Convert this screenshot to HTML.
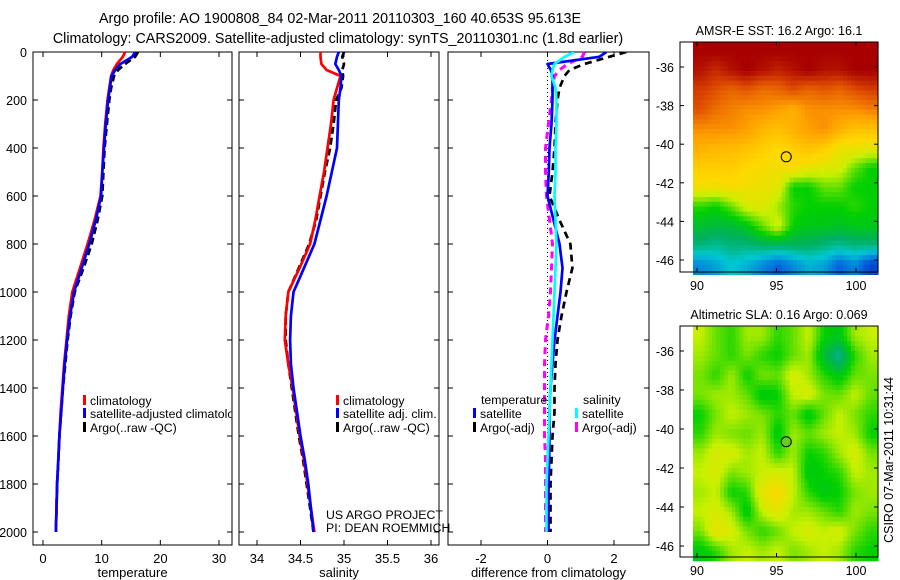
<!DOCTYPE html>
<html><head><meta charset="utf-8"><style>
html,body{margin:0;padding:0;background:#fff;}
svg{display:block;font-family:"Liberation Sans",sans-serif;}
</style></head><body>
<svg id="fig" width="900" height="580" viewBox="0 0 900 580"></svg>
<script>
const depths=[0,20,50,75,100,150,200,300,400,500,600,700,800,900,1000,1100,1200,1300,1400,1500,1600,1700,1800,1900,2000];
const tempClim=[14.0,13.6,12.6,12.0,11.6,11.3,11.0,10.6,10.3,10.1,9.8,8.8,7.6,6.3,5.0,4.4,4.0,3.6,3.3,3.0,2.8,2.6,2.4,2.3,2.2];
const tempSat=[15.7,15.2,13.2,12.3,11.7,11.4,11.1,10.7,10.4,10.1,9.9,9.0,7.9,6.6,5.3,4.6,4.1,3.7,3.4,3.1,2.8,2.6,2.4,2.3,2.2];
const tempArgo=[16.2,15.7,14.0,12.8,12.1,11.6,11.3,10.9,10.5,10.3,10.1,9.3,8.3,6.9,5.4,4.7,4.2,3.8,3.4,3.1,2.8,2.6,2.4,2.3,2.2];
const salClim=[34.73,34.73,34.74,34.80,34.96,34.92,34.88,34.85,34.81,34.77,34.72,34.67,34.61,34.49,34.36,34.33,34.32,34.36,34.41,34.45,34.49,34.54,34.58,34.62,34.66];
const salSat=[34.94,34.92,34.90,34.94,34.97,34.96,34.94,34.93,34.92,34.86,34.80,34.73,34.66,34.54,34.42,34.39,34.38,34.39,34.42,34.46,34.50,34.55,34.59,34.62,34.65];
const salArgo=[35.0,34.98,35.0,34.98,34.99,34.97,34.91,34.88,34.84,34.78,34.73,34.68,34.60,34.48,34.36,34.33,34.33,34.36,34.40,34.44,34.48,34.53,34.57,34.61,34.65];
const dTempSat=[1.77,1.56,0.0,0.1,0.15,0.15,0.15,0.12,0.06,0.04,0.0,0.18,0.36,0.45,0.39,0.30,0.21,0.15,0.09,0.06,0.06,0.05,0.03,0.03,0.03];
const dTempArgo=[2.37,1.86,1.11,0.66,0.51,0.36,0.30,0.24,0.21,0.15,0.06,0.36,0.69,0.75,0.57,0.42,0.30,0.24,0.21,0.21,0.15,0.12,0.09,0.09,0.09];
const dSalSat=[0.81,0.51,0.21,0.15,0.12,0.24,0.27,0.27,0.24,0.24,0.21,0.24,0.27,0.24,0.21,0.18,0.15,0.12,0.09,0.06,0.03,0.0,-0.03,-0.03,-0.03];
const dSalArgo=[1.11,1.05,0.60,0.36,0.21,0.15,0.12,0.03,-0.06,-0.06,-0.03,0.06,0.15,0.12,0.09,0.03,-0.06,-0.09,-0.09,-0.09,-0.09,-0.06,-0.06,-0.06,-0.06];
const depthTicks=[0,200,400,600,800,1000,1200,1400,1600,1800,2000];
const tempTicks=[0,10,20,30];
const salTicks=[34,34.5,35,35.5,36];
const diffTicks=[-2,0,2];
const lonTicks=[90,95,100];
const latTicks1=[-36,-38,-40,-42,-44,-46];
const latTicks2=[-36,-38,-40,-42,-44,-46];
const sstGrid=[
[0.97,0.97,0.97,0.97,0.97,0.97,0.97,0.97,0.97,0.97,0.97,0.97],
[0.95,0.92,0.95,0.97,0.95,0.93,0.95,0.97,0.95,0.95,0.97,0.97],
[0.90,0.88,0.85,0.87,0.84,0.85,0.88,0.85,0.87,0.85,0.88,0.90],
[0.88,0.84,0.82,0.80,0.80,0.78,0.75,0.80,0.80,0.80,0.80,0.82],
[0.80,0.80,0.80,0.78,0.74,0.72,0.75,0.78,0.80,0.75,0.72,0.72],
[0.75,0.74,0.73,0.72,0.70,0.68,0.70,0.72,0.70,0.65,0.65,0.64],
[0.70,0.70,0.70,0.68,0.67,0.66,0.68,0.65,0.63,0.62,0.55,0.50],
[0.66,0.66,0.67,0.66,0.65,0.64,0.50,0.50,0.55,0.55,0.50,0.50],
[0.52,0.50,0.55,0.62,0.63,0.58,0.52,0.50,0.50,0.50,0.52,0.50],
[0.46,0.45,0.45,0.48,0.55,0.62,0.50,0.48,0.48,0.47,0.48,0.48],
[0.40,0.38,0.40,0.40,0.42,0.42,0.42,0.42,0.40,0.38,0.40,0.40],
[0.25,0.28,0.33,0.30,0.25,0.20,0.25,0.30,0.28,0.20,0.25,0.15]];
const slaGrid=[
[0.60,0.55,0.52,0.58,0.58,0.52,0.55,0.60,0.50,0.48,0.58,0.60],
[0.58,0.55,0.52,0.56,0.52,0.50,0.55,0.58,0.45,0.38,0.52,0.58],
[0.56,0.52,0.58,0.50,0.56,0.55,0.62,0.58,0.52,0.48,0.55,0.56],
[0.56,0.58,0.58,0.55,0.48,0.50,0.60,0.62,0.56,0.55,0.60,0.55],
[0.50,0.56,0.60,0.58,0.56,0.52,0.55,0.48,0.55,0.60,0.56,0.52],
[0.52,0.58,0.56,0.55,0.58,0.48,0.58,0.55,0.58,0.60,0.58,0.50],
[0.58,0.62,0.62,0.58,0.60,0.52,0.58,0.50,0.52,0.58,0.62,0.56],
[0.60,0.62,0.56,0.58,0.60,0.62,0.60,0.48,0.50,0.52,0.60,0.58],
[0.58,0.60,0.50,0.52,0.65,0.68,0.60,0.52,0.48,0.50,0.56,0.58],
[0.60,0.62,0.58,0.48,0.60,0.64,0.58,0.58,0.55,0.52,0.58,0.56],
[0.56,0.65,0.62,0.56,0.52,0.55,0.60,0.62,0.60,0.62,0.56,0.52],
[0.48,0.52,0.58,0.60,0.58,0.60,0.56,0.58,0.60,0.58,0.52,0.50]];

const svg=document.getElementById('fig');
const NS='http://www.w3.org/2000/svg';
function mk(tag,attrs,parent){const e=document.createElementNS(NS,tag);for(const k in attrs)e.setAttribute(k,attrs[k]);(parent||svg).appendChild(e);return e;}
function txt(x,y,s,anchor,size,parent){const t=mk('text',{x:x,y:y,'font-size':size||13,'text-anchor':anchor||'start',fill:'#000'},parent);t.textContent=s;return t;}

const T=52,B=545;
const yD=d=>52+d*0.24;
const panels=[
 {name:'temperature',L:33,R:232,x0:0,x1:30,px0:43,px1:219,ticks:tempTicks,label:'temperature'},
 {name:'salinity',L:239,R:439,x0:34,x1:36,px0:257,px1:431,ticks:salTicks,label:'salinity'},
 {name:'difference',L:448,R:649,x0:-2,x1:2,px0:481,px1:614,ticks:diffTicks,label:'difference from climatology'}];
panels.forEach(p=>{p.sx=v=>p.px0+(v-p.x0)*(p.px1-p.px0)/(p.x1-p.x0);});

let t1=txt(340,23,'Argo profile: AO 1900808_84 02-Mar-2011 20110303_160 40.653S 95.613E','middle',14.3);

let t2=txt(338,43,'Climatology: CARS2009. Satellite-adjusted climatology: synTS_20110301.nc (1.8d earlier)','middle',14.3);


panels.forEach((p,i)=>{
 const g=mk('g',{});
 
 
 const cp=mk('clipPath',{id:'cp'+i},g);mk('rect',{x:p.L,y:T,width:p.R-p.L,height:B-T},cp);
 mk('rect',{x:p.L,y:T,width:p.R-p.L,height:B-T,fill:'none',stroke:'#000','stroke-width':1},g);
 depthTicks.forEach(d=>{
  const y=yD(d);
  mk('line',{x1:p.L,y1:y,x2:p.L+5,y2:y,stroke:'#000'},g);
  mk('line',{x1:p.R-5,y1:y,x2:p.R,y2:y,stroke:'#000'},g);
  if(i===0){const lt=txt(p.L-6,y+5,String(d),'end',12.5,g);}
 });
 p.ticks.forEach(v=>{
  const x=p.sx(v);
  mk('line',{x1:x,y1:B,x2:x,y2:B-5,stroke:'#000'},g);
  mk('line',{x1:x,y1:T,x2:x,y2:T+5,stroke:'#000'},g);
  const lt=txt(x,B+18,String(v),'middle',13,g);
  
  
 });
 const al=txt((p.L+p.R)/2,B+32,p.label,'middle',13,g);
 
 
 p.g=g;
});

function series(p,vals,color,w,dash,name,i){
 const pts=depths.map((d,k)=>p.sx(vals[k]).toFixed(1)+','+yD(d).toFixed(1)).join(' ');
 const a={points:pts,fill:'none',stroke:color,'stroke-width':w,'stroke-linejoin':'round','clip-path':'url(#cp'+i+')'};
 if(dash)a['stroke-dasharray']=dash;
 const l=mk('polyline',a,p.g);
 
 
}
{const p=panels[2];const z=mk('line',{x1:p.sx(0),y1:T,x2:p.sx(0),y2:yD(2000),stroke:'#000','stroke-dasharray':'1,3','stroke-width':1},p.g);
}
series(panels[0],tempArgo,'#000',2.7,'7,4','temp-argo-line',0);
series(panels[0],tempClim,'#f00',2.7,null,'temp-climatology-line',0);
series(panels[0],tempSat,'#00f',2.7,null,'temp-satellite-line',0);
series(panels[1],salArgo,'#000',2.7,'7,4','sal-argo-line',1);
series(panels[1],salClim,'#f00',2.7,null,'sal-climatology-line',1);
series(panels[1],salSat,'#00f',2.7,null,'sal-satellite-line',1);
series(panels[2],dTempArgo,'#000',2.7,'7,5','diff-temp-argo-line',2);
series(panels[2],dSalArgo,'#f0f',3,'7,5','diff-sal-argo-line',2);
series(panels[2],dTempSat,'#00f',2.7,null,'diff-temp-satellite-line',2);
series(panels[2],dSalSat,'#0ff',2.7,null,'diff-sal-satellite-line',2);

function legendEntry(g,x,y,color,label,clip,name){
 const grp=mk('g',{},g);
 
 
 mk('rect',{x:x,y:y-9,width:3,height:10,fill:color},grp);
 const t=txt(x+7,y+1,label,'start',12.3,grp);
 if(clip)t.setAttribute('clip-path',clip);
}
legendEntry(panels[0].g,83,404,'#f00','climatology',null,'legend-entry-climatology');
legendEntry(panels[0].g,83,417,'#00f','satellite-adjusted climatology','url(#cp0)','legend-entry-satellite');
legendEntry(panels[0].g,83,431,'#000','Argo(..raw -QC)',null,'legend-entry-argo');
legendEntry(panels[1].g,336,404,'#f00','climatology',null,'legend-entry-climatology');
legendEntry(panels[1].g,336,417,'#00f','satellite adj. clim.',null,'legend-entry-satellite');
legendEntry(panels[1].g,336,431,'#000','Argo(..raw -QC)',null,'legend-entry-argo');
{const a=txt(481,404,'temperature','start',12.3,panels[2].g);
 const b=txt(583,404,'salinity','start',12.3,panels[2].g);}
legendEntry(panels[2].g,473,417,'#00f','satellite',null,'legend-entry-temp-satellite');
legendEntry(panels[2].g,473,431,'#000','Argo(-adj)',null,'legend-entry-temp-argo');
legendEntry(panels[2].g,575,417,'#0ff','satellite',null,'legend-entry-sal-satellite');
legendEntry(panels[2].g,575,431,'#f0f','Argo(-adj)',null,'legend-entry-sal-argo');
{const a=txt(326,519,'US ARGO PROJECT','start',12.3);
 const b=txt(326,532,'PI: DEAN ROEMMICH','start',12.3);}

const cstops=[[0,[0,0,143]],[0.2,[0,96,224]],[0.33,[0,200,210]],[0.42,[0,176,96]],[0.5,[0,208,0]],[0.6,[200,240,0]],[0.68,[255,216,0]],[0.78,[255,160,0]],[0.88,[224,80,0]],[0.97,[168,0,0]],[1,[160,0,0]]];
function cmap(v){for(let i=1;i<cstops.length;i++){if(v<=cstops[i][0]){const a=cstops[i-1],b=cstops[i];const f=(v-a[0])/(b[0]-a[0]);return 'rgb('+a[1].map((c,k)=>Math.round(c+(b[1][k]-c)*f)).join(',')+')';}}return 'rgb(160,0,0)';}
function sample(grid,fr,fc){
 const R=grid.length,C=grid[0].length;
 fr=Math.max(0,Math.min(R-1,fr));fc=Math.max(0,Math.min(C-1,fc));
 const r0=Math.floor(fr),c0=Math.floor(fc),r1=Math.min(R-1,r0+1),c1=Math.min(C-1,c0+1);
 const a=fr-r0,b=fc-c0;
 return grid[r0][c0]*(1-a)*(1-b)+grid[r0][c1]*(1-a)*b+grid[r1][c0]*a*(1-b)+grid[r1][c1]*a*b;
}

function map(cfg){
 const g=mk('g',{});
 
 
 const sx=lon=>697+(lon-90)*15.9;
 const sy=lat=>cfg.y36+(-36-lat)*cfg.dy;
 const lon0=89.75,lon1=90+(878-697)/15.9,lat0=cfg.latTop,lat1=-46.75;
 const rows=cfg.grid.length,cols=cfg.grid[0].length;
 const SUB=4;
 const nr=rows*SUB,nc=cols*SUB;
 const dlon=(lon1-lon0)/nc,dlat=(lat0-lat1)/nr;
 for(let r=0;r<nr;r++)for(let c=0;c<nc;c++){
  const v=sample(cfg.grid,(r+0.5)/SUB-0.5,(c+0.5)/SUB-0.5);
  const x0=sx(lon0+c*dlon),x1=sx(lon0+(c+1)*dlon);
  const y0=sy(lat0-r*dlat),y1=sy(lat0-(r+1)*dlat);
  const cell=mk('rect',{x:x0.toFixed(1),y:y0.toFixed(1),width:(x1-x0+0.6).toFixed(1),height:(y1-y0+0.6).toFixed(1),fill:cmap(v)},g);
  
  
 }
 mk('rect',{x:680,y:cfg.top,width:198,height:cfg.bottom-cfg.top,fill:'none',stroke:'#000'},g);
 lonTicks.forEach(l=>{const x=sx(l);mk('line',{x1:x,y1:cfg.bottom,x2:x,y2:cfg.bottom-4,stroke:'#000'},g);mk('line',{x1:x,y1:cfg.top,x2:x,y2:cfg.top+4,stroke:'#000'},g);
  const t=txt(x,cfg.bottom+18,String(l),'middle',12.5,g);});
 cfg.latTicks.forEach(l=>{const y=sy(l);mk('line',{x1:680,y1:y,x2:684,y2:y,stroke:'#000'},g);mk('line',{x1:874,y1:y,x2:878,y2:y,stroke:'#000'},g);
  const t=txt(674,y+5,String(l),'end',12.5,g);});
 const c=mk('circle',{cx:sx(95.613),cy:sy(-40.653),r:5,fill:cfg.dotFill,stroke:'#000','stroke-width':1},g);
 
 const t=txt(779,cfg.top-7,cfg.title,'middle',12.5,g);
}
map({name:'sst-map',grid:sstGrid,top:42,bottom:272,y36:67,dy:19.3,latTop:-34.7,latTicks:latTicks1,title:'AMSR-E SST: 16.2 Argo: 16.1',dotFill:'none'});
map({name:'sla-map',grid:slaGrid,top:326,bottom:557,y36:351,dy:19.5,latTop:-34.75,latTicks:latTicks2,title:'Altimetric SLA: 0.16 Argo: 0.069',dotFill:'#66cc22'});
{const t=txt(0,0,'CSIRO 07-Mar-2011 10:31:44','middle',12.5);t.setAttribute('transform','translate(893,460) rotate(-90)');}
</script>
</body></html>
